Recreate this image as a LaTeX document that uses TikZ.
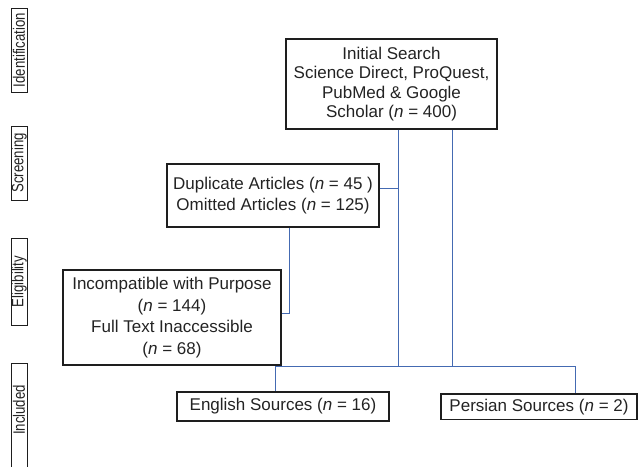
\documentclass[tikz,border=0pt]{standalone}
\usepackage{fontspec}
\setmainfont{Liberation Sans}
\definecolor{linkblue}{RGB}{68,106,178}
\definecolor{boxline}{RGB}{30,30,30}
\definecolor{txt}{RGB}{35,35,35}
\newcommand{\stagetext}[1]{\scalebox{0.8}[1]{#1}}
\begin{document}
\begin{tikzpicture}[x=1pt,y=-1pt,
  box/.style={draw=boxline, line width=1.1pt, inner sep=0pt, align=center, text=txt},
  bigtext/.style={font=\fontsize{17}{19.2}\selectfont},
  midtext/.style={font=\fontsize{17}{21.5}\selectfont},
  stagebox/.style={draw=boxline, line width=1pt, inner sep=0pt, rotate=90, minimum height=16pt, text=txt, font=\fontsize{16.5}{17}\selectfont},
  link/.style={draw=linkblue, line width=1pt}
]
\useasboundingbox (0,0) rectangle (644,466);

% stage labels
\node[stagebox, minimum width=84pt] (sid) at (19,50) {\stagetext{Identification}};
\node[stagebox, minimum width=74pt] (sscr) at (19,163) {\stagetext{Screening}};
\node[stagebox, minimum width=87pt] (selig) at (19,281.5) {\stagetext{Eligibility}};
\node[stagebox, draw=none] (sincl) at (19,410) {\stagetext{Included}};
\draw[boxline, line width=1pt] (11,474) -- (11,363) -- (27,363) -- (27,474);

% main boxes
\node[box, bigtext, minimum width=211pt, minimum height=90pt] (init) at (391.5,84)
  {Initial Search\\Science Direct, ProQuest,\\PubMed \& Google\\Scholar (\textit{n} = 400)};
\node[box, midtext, minimum width=212pt, minimum height=63pt] (dup) at (273,195.5)
  {Duplicate Articles (\textit{n} = 45 )\\Omitted Articles (\textit{n} = 125)};
\node[box, midtext, minimum width=218pt, minimum height=95pt] (inc) at (172,317.5)
  {Incompatible with Purpose\\(\textit{n} = 144)\\Full Text Inaccessible\\(\textit{n} = 68)};
\node[box, midtext, minimum width=212pt, minimum height=29pt] (eng) at (283,406.5)
  {English Sources (\textit{n} = 16)};
\node[box, midtext, minimum width=196pt, minimum height=25.5pt] (per) at (539,406.75)
  {Persian Sources (\textit{n} = 2)};

% junction coordinates
\coordinate (ja) at (398,366);
\coordinate (jb) at (452,366);
\coordinate (jd) at (398,188);
\coordinate (je) at (289,313);
\coordinate (jl) at (275,366);
\coordinate (jr) at (575,366);

% connectors
\draw[link] (init.south -| ja) -- (ja) -- (jb) -- (init.south -| jb);
\draw[link] (dup.east |- jd) -- (jd);
\draw[link] (dup.south -| je) -- (je) -- (inc.east |- je);
\draw[link] (jl) -- (jr);
\draw[link] (jl) -- (eng.north -| jl);
\draw[link] (jr) -- (per.north -| jr);
\end{tikzpicture}
\end{document}
